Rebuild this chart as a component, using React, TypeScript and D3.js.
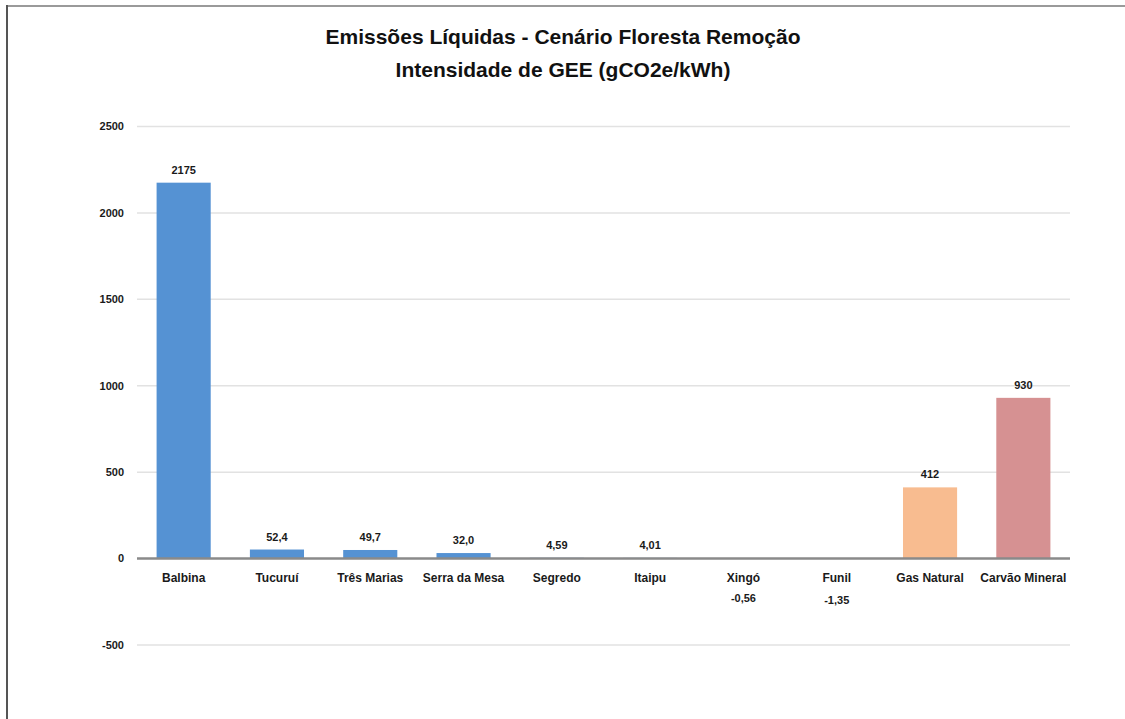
import React, { useEffect, useRef } from 'react';
import * as d3 from 'd3';

const categories = ['Balbina', 'Tucuruí', 'Três Marias', 'Serra da Mesa', 'Segredo', 'Itaipu', 'Xingó', 'Funil', 'Gas Natural', 'Carvão Mineral'];
const values = [2175, 52.4, 49.7, 32.0, 4.59, 4.01, -0.56, -1.35, 412, 930];
const valueLabels = ['2175', '52,4', '49,7', '32,0', '4,59', '4,01', '-0,56', '-1,35', '412', '930'];
const barColors = ['#5592d3', '#5592d3', '#5592d3', '#5592d3', '#5592d3', '#5592d3', '#5592d3', '#5592d3', '#f8bc90', '#d69192'];
const yTicks = [-500, 0, 500, 1000, 1500, 2000, 2500];
const titleLines = ['Emissões Líquidas - Cenário Floresta Remoção', 'Intensidade de GEE (gCO2e/kWh)'];

const FONT = '"Liberation Sans Narrow", "Liberation Sans", Arial, sans-serif';

const App = () => {
  const svgRef = useRef<SVGSVGElement>(null);

  useEffect(() => {
    const svg = d3.select(svgRef.current);
    svg.selectAll('*').remove();

    const width = 1125;
    const height = 719;
    const left = 137;
    const right = 1070;

    svg.attr('width', width).attr('height', height).style('font-family', FONT);

    // frame (only top and left edges visible)
    svg.append('rect').attr('x', 0).attr('y', 0).attr('width', width).attr('height', height).attr('fill', '#fff');
    svg.append('line').attr('x1', 6).attr('x2', width).attr('y1', 6).attr('y2', 6)
      .attr('stroke', '#9a9a9a').attr('stroke-width', 2);
    svg.append('line').attr('x1', 7).attr('x2', 7).attr('y1', 5).attr('y2', height)
      .attr('stroke', '#555').attr('stroke-width', 2);

    // title
    svg.append('g').selectAll('text')
      .data(titleLines)
      .join('text')
      .attr('x', 563)
      .attr('y', (d, i) => 44 + i * 33)
      .attr('text-anchor', 'middle')
      .attr('font-size', 21)
      .attr('font-weight', 'bold')
      .attr('fill', '#111')
      .text(d => d);

    const x = d3.scaleBand().domain(categories).range([left, right]).paddingInner(0.42).paddingOuter(0.21);
    const y = d3.scaleLinear().domain([-500, 2500]).range([645, 126.5]);

    // gridlines
    svg.append('g').selectAll('line')
      .data(yTicks.filter(t => t !== 0))
      .join('line')
      .attr('x1', left).attr('x2', right)
      .attr('y1', d => y(d)).attr('y2', d => y(d))
      .attr('stroke', '#e2e2e2').attr('stroke-width', 1.5);

    // tick labels
    svg.append('g').selectAll('text')
      .data(yTicks)
      .join('text')
      .attr('x', 124)
      .attr('y', d => y(d))
      .attr('dy', '0.35em')
      .attr('text-anchor', 'end')
      .attr('font-size', 11)
      .attr('font-weight', 'bold')
      .attr('fill', '#1a1a1a')
      .text(d => d);

    // bars
    svg.append('g').selectAll('rect')
      .data(values)
      .join('rect')
      .attr('x', (d, i) => x(categories[i]))
      .attr('width', x.bandwidth())
      .attr('y', d => y(Math.max(0, d)))
      .attr('height', d => Math.abs(y(d) - y(0)))
      .attr('fill', (d, i) => barColors[i]);

    // zero axis line
    svg.append('line')
      .attr('x1', left).attr('x2', right)
      .attr('y1', y(0)).attr('y2', y(0))
      .attr('stroke', '#8a8a8a').attr('stroke-width', 2.5);

    // category labels
    svg.append('g').selectAll('text')
      .data(categories)
      .join('text')
      .attr('x', d => x(d) + x.bandwidth() / 2)
      .attr('y', y(0) + 23)
      .attr('text-anchor', 'middle')
      .attr('font-size', 12)
      .attr('font-weight', 'bold')
      .attr('fill', '#1a1a1a')
      .text(d => d);

    // value labels
    svg.append('g').selectAll('text')
      .data(values)
      .join('text')
      .attr('x', (d, i) => x(categories[i]) + x.bandwidth() / 2)
      .attr('y', d => (d >= 0 ? y(d) - 9 : y(0) + 42 + Math.abs(d) * 2.5))
      .attr('text-anchor', 'middle')
      .attr('font-size', 11)
      .attr('font-weight', 'bold')
      .attr('fill', '#1a1a1a')
      .text((d, i) => valueLabels[i]);
  }, []);

  return <svg ref={svgRef} style={{ position: 'absolute', left: 0, top: 0 }} />;
};

export default App;
